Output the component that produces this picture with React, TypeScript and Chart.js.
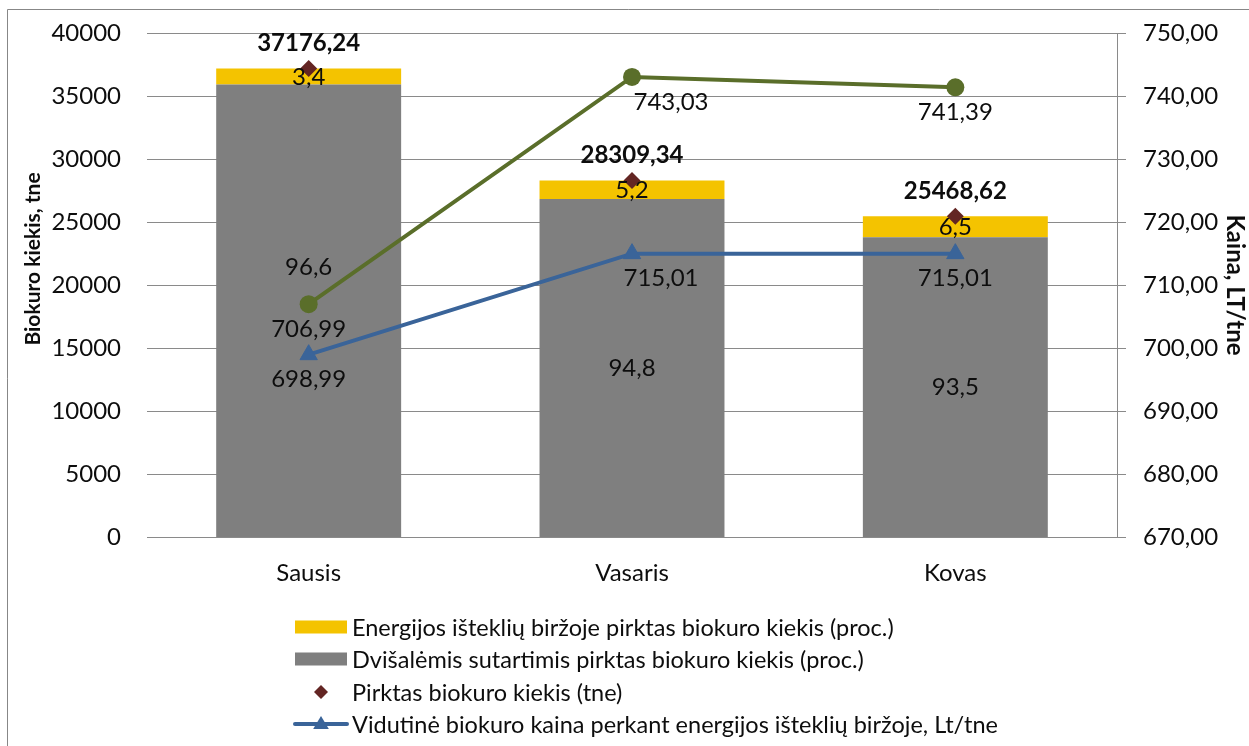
import React, { useEffect, useRef } from 'react';
import { Chart, registerables } from 'chart.js';

Chart.register(...registerables);

// ---- data ----
const categories = ['Sausis', 'Vasaris', 'Kovas'];
const totalPurchased = [37176.24, 28309.34, 25468.62]; // tne
const exchangeSharePct = [3.4, 5.2, 6.5];
const bilateralSharePct = [96.6, 94.8, 93.5];
const avgExchangePrice = [698.99, 715.01, 715.01]; // Lt/tne
const otherPrice = [706.99, 743.03, 741.39];

const leftMin = 0;
const leftMax = 40000;
const leftStep = 5000;
const rightMin = 670;
const rightMax = 750;
const rightStep = 10;

const leftTitle = 'Biokuro kiekis, tne';
const rightTitle = 'Kaina, LT/tne';

const legendLabels = [
  'Energijos išteklių biržoje pirktas biokuro kiekis (proc.)',
  'Dvišalėmis sutartimis pirktas biokuro kiekis (proc.)',
  'Pirktas biokuro kiekis (tne)',
  'Vidutinė biokuro kaina perkant energijos išteklių biržoje, Lt/tne',
];

// ---- styles ----
const FONT = 'Lato, "Open Sans", sans-serif';
const GRAY = '#7f7f7f';
const YELLOW = '#f4c300';
const DIAMOND = '#632523';
const BLUE = '#3a6499';
const GREEN = '#5a6e2a';
const GRID = '#8a8a8a';
const TEXT = '#0d0d0d';
const FS = 24;

// label offsets (pixels) per dataset/point
const grayLabelDy = [-44, 0, 0];
const greenLabelDx = [0, 39, 0];
const blueLabelDx = [0, 29, 0];
const lineLabelDy = 25;
const totalLabelDy = -25;

const fmt2 = (v: number) => v.toFixed(2).replace('.', ',');
const fmt1 = (v: number) => v.toFixed(1).replace('.', ',');

const bilateralTne = totalPurchased.map((t, i) => (t * bilateralSharePct[i]) / 100);
const exchangeTne = totalPurchased.map((t, i) => (t * exchangeSharePct[i]) / 100);

const overlayPlugin = {
  id: 'overlay',
  beforeDraw(chart: any) {
    const ctx = chart.ctx;
    ctx.save();
    ctx.fillStyle = '#ffffff';
    ctx.fillRect(0, 0, chart.width, chart.height);
    ctx.strokeStyle = '#878787';
    ctx.lineWidth = 1;
    ctx.beginPath();
    ctx.moveTo(7.5, chart.height + 2);
    ctx.lineTo(7.5, 9.5);
    ctx.lineTo(chart.width + 2, 9.5);
    ctx.stroke();
    ctx.restore();
  },
  afterDraw(chart: any) {
    const ctx = chart.ctx;
    ctx.save();
    ctx.textAlign = 'center';
    ctx.textBaseline = 'middle';
    ctx.fillStyle = TEXT;

    const grayMeta = chart.getDatasetMeta(0);
    const yellowMeta = chart.getDatasetMeta(1);
    const diaMeta = chart.getDatasetMeta(2);
    const blueMeta = chart.getDatasetMeta(3);
    const greenMeta = chart.getDatasetMeta(4);

    ctx.font = `${FS}px ${FONT}`;
    grayMeta.data.forEach((el: any, i: number) => {
      ctx.fillText(fmt1(bilateralSharePct[i]), el.x, (el.y + el.base) / 2 + grayLabelDy[i]);
    });
    yellowMeta.data.forEach((el: any, i: number) => {
      ctx.fillText(fmt1(exchangeSharePct[i]), el.x, (el.y + el.base) / 2 + 1);
    });
    greenMeta.data.forEach((el: any, i: number) => {
      ctx.fillText(fmt2(otherPrice[i]), el.x + greenLabelDx[i], el.y + lineLabelDy);
    });
    blueMeta.data.forEach((el: any, i: number) => {
      ctx.fillText(fmt2(avgExchangePrice[i]), el.x + blueLabelDx[i], el.y + lineLabelDy);
    });
    ctx.font = `bold ${FS}px ${FONT}`;
    diaMeta.data.forEach((el: any, i: number) => {
      ctx.fillText(fmt2(totalPurchased[i]), el.x, el.y + totalLabelDy);
    });

    // axis titles
    ctx.font = `bold 21px ${FONT}`;
    ctx.save();
    ctx.translate(33, 259);
    ctx.rotate(-Math.PI / 2);
    ctx.fillText(leftTitle, 0, 0);
    ctx.restore();
    ctx.font = `bold 24px ${FONT}`;
    ctx.save();
    ctx.translate(1235, 285);
    ctx.rotate(Math.PI / 2);
    ctx.fillText(rightTitle, 0, 0);
    ctx.restore();

    // legend
    const symX = 295;
    const symW = 52;
    const textX = 352;
    const rowY = [627, 659, 692, 724];
    ctx.font = `23.5px ${FONT}`;
    ctx.textAlign = 'left';
    legendLabels.forEach((label, i) => {
      const y = rowY[i];
      if (i === 0 || i === 1) {
        ctx.fillStyle = i === 0 ? YELLOW : GRAY;
        ctx.fillRect(symX, y - 6.5, symW, 13);
      } else if (i === 2) {
        ctx.fillStyle = DIAMOND;
        const cx = symX + symW / 2;
        const r = 7;
        ctx.beginPath();
        ctx.moveTo(cx, y - r);
        ctx.lineTo(cx + r, y);
        ctx.lineTo(cx, y + r);
        ctx.lineTo(cx - r, y);
        ctx.closePath();
        ctx.fill();
      } else {
        ctx.strokeStyle = BLUE;
        ctx.lineWidth = 4;
        ctx.lineCap = 'round';
        ctx.beginPath();
        ctx.moveTo(symX, y);
        ctx.lineTo(symX + symW, y);
        ctx.stroke();
        const cx = symX + symW / 2;
        const r = 9;
        ctx.fillStyle = BLUE;
        ctx.beginPath();
        ctx.moveTo(cx, y - r * 0.9);
        ctx.lineTo(cx + r * 0.87, y + r * 0.55);
        ctx.lineTo(cx - r * 0.87, y + r * 0.55);
        ctx.closePath();
        ctx.fill();
      }
      ctx.fillStyle = TEXT;
      ctx.fillText(label, textX, y + 1);
    });
    ctx.restore();
  },
};

export default function App() {
  const ref = useRef<HTMLCanvasElement | null>(null);

  useEffect(() => {
    if (!ref.current) return;
    const chart = new Chart(ref.current, {
      type: 'bar',
      data: {
        labels: categories,
        datasets: [
          {
            type: 'bar',
            label: legendLabels[1],
            data: bilateralTne,
            backgroundColor: GRAY,
            yAxisID: 'y',
            stack: 's',
            barPercentage: 0.572,
            categoryPercentage: 1,
            order: 10,
          },
          {
            type: 'bar',
            label: legendLabels[0],
            data: exchangeTne,
            backgroundColor: YELLOW,
            yAxisID: 'y',
            stack: 's',
            barPercentage: 0.572,
            categoryPercentage: 1,
            order: 10,
          },
          {
            type: 'line',
            label: legendLabels[2],
            data: totalPurchased,
            yAxisID: 'y',
            showLine: false,
            pointStyle: 'rectRot',
            pointRadius: 8.5,
            pointBackgroundColor: DIAMOND,
            pointBorderColor: DIAMOND,
            pointBorderWidth: 0,
            order: 1,
          },
          {
            type: 'line',
            label: legendLabels[3],
            data: avgExchangePrice,
            yAxisID: 'y1',
            borderColor: BLUE,
            borderWidth: 4,
            pointStyle: 'triangle',
            pointRadius: 10,
            pointBackgroundColor: BLUE,
            pointBorderColor: BLUE,
            pointBorderWidth: 1,
            order: 2,
          },
          {
            type: 'line',
            label: 'Kaina',
            data: otherPrice,
            yAxisID: 'y1',
            borderColor: GREEN,
            borderWidth: 4,
            pointStyle: 'circle',
            pointRadius: 9,
            pointBackgroundColor: GREEN,
            pointBorderColor: GREEN,
            pointBorderWidth: 0,
            order: 2,
          },
        ],
      },
      options: {
        responsive: false,
        animation: false,
        layout: { padding: { left: 0, right: 0, top: 33, bottom: 0 } },
        plugins: {
          legend: { display: false },
          tooltip: { enabled: false },
          title: { display: false },
        },
        scales: {
          x: {
            type: 'category',
            offset: true,
            stacked: true,
            grid: { display: false, drawTicks: false },
            border: { display: false },
            ticks: { color: TEXT, font: { family: FONT, size: FS }, padding: 21, maxRotation: 0 },
            afterFit(scale: any) {
              scale.height = 746 - 537.5;
              scale.paddingLeft = 0;
              scale.paddingRight = 0;
            },
          },
          y: {
            type: 'linear',
            position: 'left',
            stacked: true,
            min: leftMin,
            max: leftMax,
            ticks: {
              stepSize: leftStep,
              color: TEXT,
              font: { family: FONT, size: FS },
              padding: 26,
              callback: (v: any) => String(v),
            },
            grid: { color: GRID, lineWidth: 1, drawTicks: false },
            border: { display: false },
            afterFit(scale: any) {
              scale.width = 147;
              scale.paddingTop = 0;
              scale.paddingBottom = 0;
            },
          },
          y1: {
            type: 'linear',
            position: 'right',
            min: rightMin,
            max: rightMax,
            ticks: {
              stepSize: rightStep,
              color: TEXT,
              font: { family: FONT, size: FS },
              padding: 17,
              callback: (v: any) => fmt2(Number(v)),
            },
            grid: { drawOnChartArea: false, drawTicks: true, tickLength: 9, color: GRID, lineWidth: 1 },
            border: { display: true, color: GRID, width: 1 },
            afterFit(scale: any) {
              scale.width = 132;
              scale.paddingTop = 0;
              scale.paddingBottom = 0;
            },
          },
        },
      } as any,
      plugins: [overlayPlugin],
    });
    return () => chart.destroy();
  }, []);

  return (
    <div style={{ position: 'fixed', left: 0, top: 0, width: 1249, height: 746, overflow: 'hidden', background: '#fff' }}>
      <canvas ref={ref} width={1249} height={746} style={{ width: 1249, height: 746, display: 'block' }} />
    </div>
  );
}
